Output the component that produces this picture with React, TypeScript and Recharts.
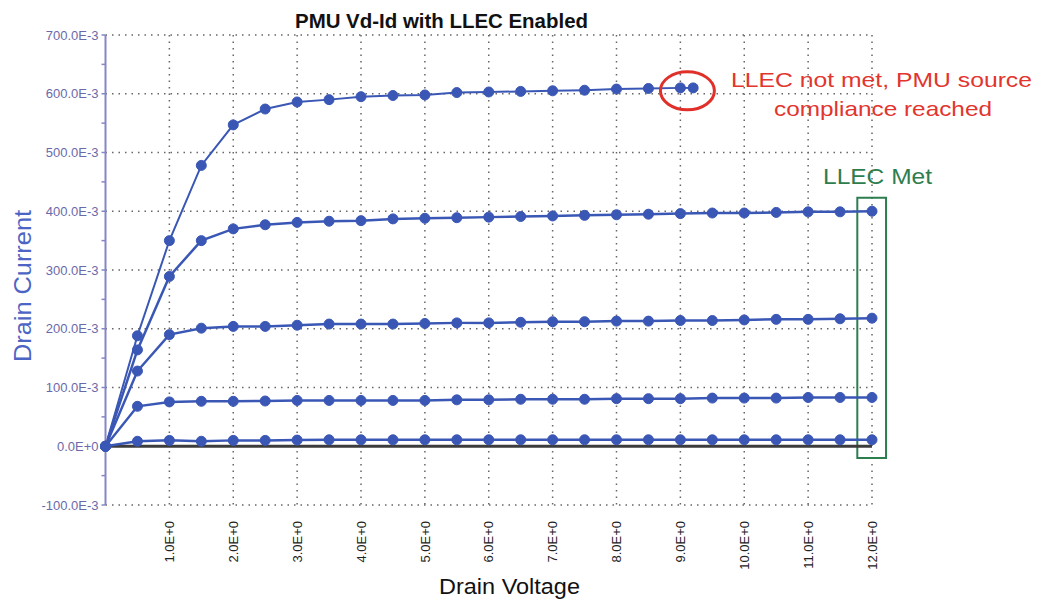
import React from 'react';
import { LineChart, Line, XAxis, YAxis, CartesianGrid, ReferenceArea, ReferenceDot } from 'recharts';

// Drain voltage sweep points (V)
const voltages = [0, 0.5, 1, 1.5, 2, 2.5, 3, 3.5, 4, 4.5, 5, 5.5, 6, 6.5, 7, 7.5, 8, 8.5, 9, 9.5, 10, 10.5, 11, 11.5, 12];
// top curve stops when PMU source compliance is reached
const voltagesTop = [0, 0.5, 1, 1.5, 2, 2.5, 3, 3.5, 4, 4.5, 5, 5.5, 6, 6.5, 7, 7.5, 8, 8.5, 9, 9.2];

// Drain current series (A)
const currentTop = [0, 0.188, 0.35, 0.478, 0.547, 0.574, 0.586, 0.59, 0.595, 0.597, 0.598, 0.602, 0.603, 0.604, 0.605, 0.606, 0.608, 0.609, 0.61, 0.61];
const current400 = [0, 0.164, 0.289, 0.35, 0.37, 0.377, 0.381, 0.383, 0.384, 0.387, 0.388, 0.389, 0.39, 0.391, 0.392, 0.393, 0.394, 0.395, 0.396, 0.397, 0.397, 0.398, 0.399, 0.399, 0.4];
const current210 = [0, 0.128, 0.19, 0.201, 0.204, 0.204, 0.206, 0.208, 0.208, 0.208, 0.209, 0.21, 0.21, 0.211, 0.212, 0.212, 0.213, 0.213, 0.214, 0.214, 0.215, 0.216, 0.216, 0.217, 0.218];
const current80 = [0, 0.068, 0.0755, 0.0765, 0.0765, 0.077, 0.078, 0.078, 0.078, 0.078, 0.078, 0.079, 0.079, 0.08, 0.08, 0.08, 0.081, 0.081, 0.081, 0.082, 0.082, 0.082, 0.083, 0.083, 0.083];
const current10 = [0, 0.0085, 0.01, 0.0085, 0.01, 0.01, 0.0105, 0.011, 0.011, 0.011, 0.011, 0.011, 0.011, 0.011, 0.011, 0.011, 0.011, 0.011, 0.011, 0.011, 0.011, 0.011, 0.011, 0.011, 0.011];
const current0 = [0, 0, 0, 0, 0, 0, 0, 0, 0, 0, 0, 0, 0, 0, 0, 0, 0, 0, 0, 0, 0, 0, 0, 0, 0];

// Axis ticks
const xTicks = [1, 2, 3, 4, 5, 6, 7, 8, 9, 10, 11, 12];
const yTicks = [-0.1, -0.05, 0, 0.05, 0.1, 0.15, 0.2, 0.25, 0.3, 0.35, 0.4, 0.45, 0.5, 0.55, 0.6, 0.65, 0.7];
const yGrid = [-0.1, 0, 0.1, 0.2, 0.3, 0.4, 0.5, 0.6, 0.7];

// Annotation anchors (data space)
const ellipseCenter = { v: 9.11, i: 0.605 };
const metBox = { v1: 11.77, v2: 12.22, i1: -0.02, i2: 0.423 };

const toRows = (xs: number[], ys: number[]) => xs.map((v, k) => ({ v, i: ys[k] }));

const BLUE = '#3a57b5';
const FONT = '"Liberation Sans", Arial, sans-serif';

const fmtY = (v: number) => {
  const m = Math.round(v * 1000);
  if (m === 0) return '0.0E+0';
  return `${m.toFixed(1)}E-3`;
};

const YTick = (props: any) => {
  const { x, y, payload } = props;
  const v = payload.value as number;
  const major = Math.abs(Math.round(v * 20)) % 2 === 0;
  if (!major) return <g />;
  return (
    <text x={x} y={y} dy="0.36em" textAnchor="end" fontFamily={FONT} fontSize={13} fill="#6a6aaa">
      {fmtY(v)}
    </text>
  );
};

const XTick = (props: any) => {
  const { x, y, payload } = props;
  return (
    <text
      transform={`translate(${x}, ${y}) rotate(-90)`}
      x={0}
      y={0}
      dy="0.36em"
      textAnchor="end"
      fontFamily={FONT}
      fontSize={13}
      fill="#222"
    >
      {`${(payload.value as number).toFixed(1)}E+0`}
    </text>
  );
};

const EllipseShape = (props: any) => {
  const { cx, cy } = props;
  return <ellipse cx={cx} cy={cy} rx={27} ry={19} fill="none" stroke="#e0302a" strokeWidth={3} />;
};

export default function App() {
  const dot = { r: 5, fill: BLUE, stroke: BLUE, strokeWidth: 1 };
  return (
    <div style={{ position: 'absolute', left: 0, top: 0, width: 1040, height: 600, background: '#fff' }}>
      <LineChart
        width={1040}
        height={600}
        margin={{ top: 35, right: 168, bottom: 35, left: 0 }}
      >
        <CartesianGrid
          horizontalValues={yGrid}
          verticalValues={xTicks}
          stroke="#666"
          strokeWidth={1.5}
          strokeDasharray="1.5 5"
        />
        <XAxis
          type="number"
          dataKey="v"
          domain={[0, 12]}
          ticks={xTicks}
          height={60}
          axisLine={false}
          tickLine={false}
          tick={<XTick />}
          tickMargin={10}
          interval={0}
        />
        <YAxis
          type="number"
          domain={[-0.1, 0.7]}
          ticks={yTicks}
          width={105.5}
          axisLine={{ stroke: '#8686c6', strokeWidth: 2 }}
          tickLine={{ stroke: '#8686c6', strokeWidth: 1.5 }}
          tickSize={4}
          tickMargin={3}
          tick={<YTick />}
          interval={0}
          allowDataOverflow
        />
        <Line data={toRows(voltages, current0)} dataKey="i" stroke="#3c3c3c" strokeWidth={3} dot={false} isAnimationActive={false} />
        <Line data={toRows(voltages, current10)} dataKey="i" stroke={BLUE} strokeWidth={2.5} dot={dot} isAnimationActive={false} />
        <Line data={toRows(voltages, current80)} dataKey="i" stroke={BLUE} strokeWidth={2.5} dot={dot} isAnimationActive={false} />
        <Line data={toRows(voltages, current210)} dataKey="i" stroke={BLUE} strokeWidth={2.5} dot={dot} isAnimationActive={false} />
        <Line data={toRows(voltages, current400)} dataKey="i" stroke={BLUE} strokeWidth={2.5} dot={dot} isAnimationActive={false} />
        <Line data={toRows(voltagesTop, currentTop)} dataKey="i" stroke={BLUE} strokeWidth={2} dot={dot} isAnimationActive={false} />
        <ReferenceDot x={ellipseCenter.v} y={ellipseCenter.i} r={20} shape={<EllipseShape />} ifOverflow="visible" />
        <ReferenceArea
          x1={metBox.v1}
          x2={metBox.v2}
          y1={metBox.i1}
          y2={metBox.i2}
          fill="none"
          fillOpacity={0}
          stroke="#2e7d4f"
          strokeWidth={2}
          ifOverflow="visible"
        />
      </LineChart>
      <svg
        width={1040}
        height={600}
        style={{ position: 'absolute', left: 0, top: 0, pointerEvents: 'none' }}
      >
        <text x={295} y={28} fontFamily={FONT} fontWeight="bold" fontSize={20} fill="#111" textLength={293} lengthAdjust="spacingAndGlyphs">
          PMU Vd-Id with LLEC Enabled
        </text>
        <text
          transform="translate(31, 362) rotate(-90)"
          x={0}
          y={0}
          fontFamily={FONT}
          fontSize={24}
          fill="#4c64c4"
          textLength={152}
          lengthAdjust="spacingAndGlyphs"
        >
          Drain Current
        </text>
        <text x={439} y={594} fontFamily={FONT} fontSize={22} fill="#111" textLength={141} lengthAdjust="spacingAndGlyphs">
          Drain Voltage
        </text>
        <text x={731} y={87} fontFamily={FONT} fontSize={21} fill="#e2352e" textLength={301} lengthAdjust="spacingAndGlyphs">
          LLEC not met, PMU source
        </text>
        <text x={774} y={116} fontFamily={FONT} fontSize={21} fill="#e2352e" textLength={218} lengthAdjust="spacingAndGlyphs">
          compliance reached
        </text>
        <text x={823} y={184} fontFamily={FONT} fontSize={22} fill="#2e7d4f" textLength={109} lengthAdjust="spacingAndGlyphs">
          LLEC Met
        </text>
      </svg>
    </div>
  );
}
